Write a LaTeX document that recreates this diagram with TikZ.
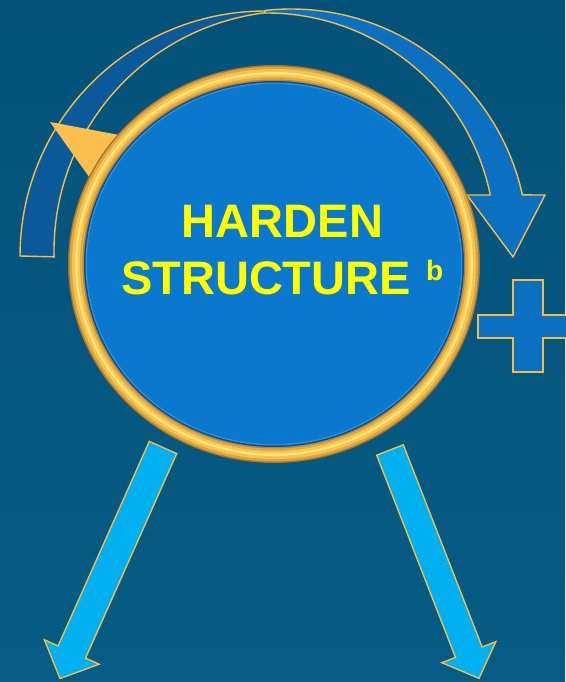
\documentclass[tikz,border=0pt]{standalone}
\usepackage{fontspec}
\setmainfont{Liberation Sans}
\definecolor{bgtop}{HTML}{04527A}
\definecolor{bgbot}{HTML}{065C84}
\definecolor{bandback}{HTML}{0A5A9B}
\definecolor{bandfront}{HTML}{0A70BF}
\definecolor{goldline}{HTML}{F7BC45}
\definecolor{goldtri}{HTML}{FDC04F}
\definecolor{disk}{HTML}{0A78CD}
\definecolor{cyanarrow}{HTML}{00B0F0}
\definecolor{txt}{HTML}{FFFF00}
\definecolor{ringA}{HTML}{A8762A}
\definecolor{ringB}{HTML}{DDA540}
\definecolor{ringC}{HTML}{F4C452}
\definecolor{ringD}{HTML}{FFE27A}
\definecolor{ringE}{HTML}{F6C955}
\definecolor{ringF}{HTML}{E2AA44}
\definecolor{ringG}{HTML}{B8862E}
\definecolor{diskedge}{HTML}{0A4F8E}
\definecolor{disklight}{HTML}{2A8FE0}
\tikzset{
  outlined/.style={draw=goldline, line width=1.4pt, line join=miter},
  bigtxt/.style={font=\bfseries\fontsize{47}{56}\selectfont, text=txt, inner sep=0pt},
  suptxt/.style={font=\bfseries\fontsize{28}{30}\selectfont, text=txt, inner sep=0pt},
  ringlayer/.style={fill=#1}
}
\begin{document}
\begin{tikzpicture}[x=1pt,y=-1pt]
\shade[top color=bgtop, bottom color=bgbot] (0,0) rectangle (565,682);
\useasboundingbox (0,0) rectangle (565,682);

% back (left) part of the circular band
\path[fill=bandback, outlined]
  plot[domain=180:90, samples=70] ({265+245*cos(\x)},{256-245*sin(\x)})
  -- plot[domain=97:181.4, samples=70] ({294+240*cos(\x)},{251-240*sin(\x)}) -- cycle;

% front (right) part with arrowhead
\path[fill=bandfront, outlined]
  plot[domain=96.3:12.45, samples=80] ({291+237*cos(\x)},{246-237*sin(\x)})
  -- (545,195) -- (513,257) -- (467,195) -- (490,195)
  -- plot[domain=11.65:90.5, samples=80] ({267+228*cos(\x)},{241-228*sin(\x)}) -- cycle;

% gold pointer triangle
\fill[goldtri] (50,122) -- (130,137) -- (97,188) -- cycle;

% ring
\fill[ringA] (274,264) ellipse [x radius=206pt, y radius=199pt];
\fill[ringB] (274,264) ellipse [x radius=204.5pt, y radius=197.5pt];
\fill[ringC] (274,264) ellipse [x radius=202pt, y radius=195pt];
\fill[ringD] (274,264) ellipse [x radius=199pt, y radius=192pt];
\fill[ringE] (274,264) ellipse [x radius=196.5pt, y radius=189.5pt];
\fill[ringF] (274,264) ellipse [x radius=194pt, y radius=187pt];
\fill[ringG] (274,264) ellipse [x radius=191.5pt, y radius=184.5pt];
\fill[diskedge] (274,264) ellipse [x radius=190pt, y radius=183pt];
\fill[disklight] (274,264) ellipse [x radius=188.5pt, y radius=181.5pt];
\fill[disk] (274,264) ellipse [x radius=187pt, y radius=180pt];

% text
\node[bigtxt, anchor=base] (t1) at (282.5,237) {HARDEN};
\node[bigtxt, anchor=base] (t2) at (266,294) {STRUCTURE};
\node[suptxt, anchor=base west] (t3) at (426,280) {b};

% plus sign
\path[fill=bandfront, outlined]
  (513,280) -- (543,280) -- (543,315) -- (580,315) -- (580,338) -- (543,338)
  -- (543,372) -- (513,372) -- (513,338) -- (478,338) -- (478,315) -- (513,315) -- cycle;

% bottom arrows
\path[fill=cyanarrow, outlined]
  (149.3,441.4) -- (176.7,453.6) -- (85.5,658.1) -- (99.2,664.2) -- (60,678.5)
  -- (44.4,639.8) -- (58.1,645.9) -- cycle;
\path[fill=cyanarrow, outlined]
  (376.7,455.2) -- (403.3,444.8) -- (482.1,647) -- (495.8,641.7) -- (479,678.3)
  -- (441.8,662.7) -- (455.5,657.4) -- cycle;
\end{tikzpicture}
\end{document}
